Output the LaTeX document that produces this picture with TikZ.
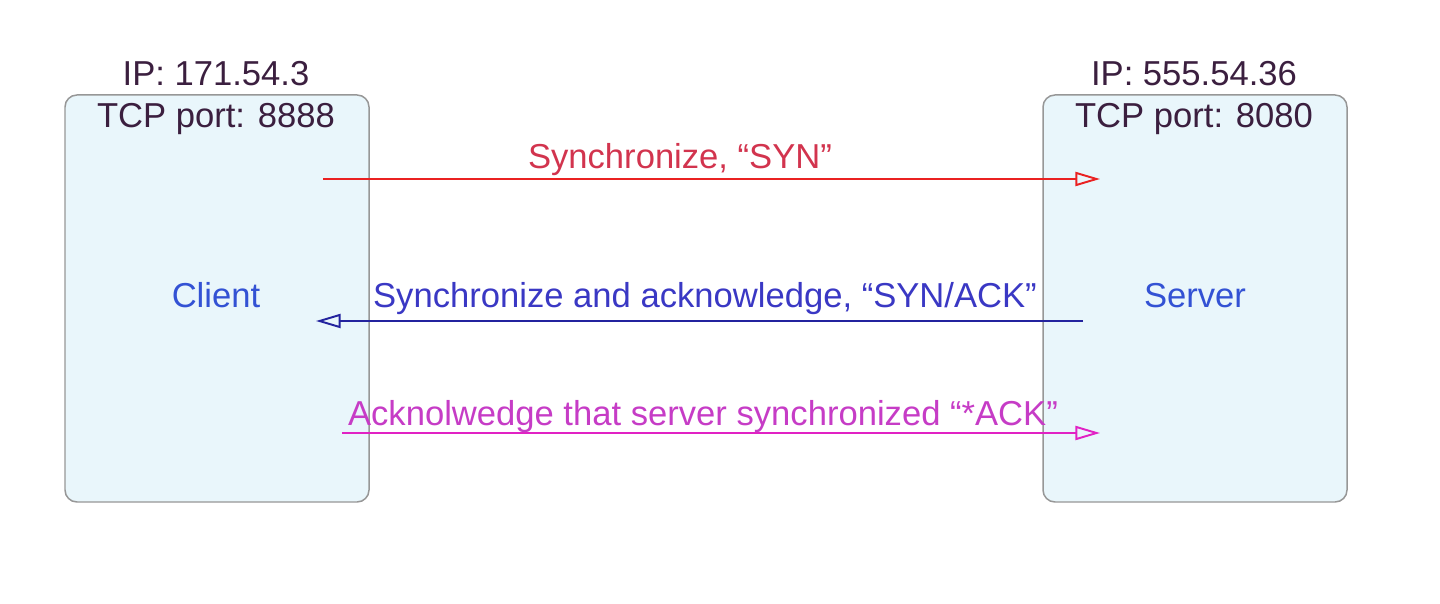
\documentclass[tikz,border=0pt]{standalone}
\usepackage{fontspec}
\setmainfont{Liberation Sans}
\usepackage{xcolor}
\usetikzlibrary{arrows.meta, positioning}

\definecolor{boxfill}{HTML}{E9F6FB}
\definecolor{boxline}{HTML}{979797}
\definecolor{addrtext}{HTML}{3B1F3F}
\definecolor{hosttext}{HTML}{3352D4}
\definecolor{synline}{HTML}{EA2121}
\definecolor{syntext}{HTML}{D2344E}
\definecolor{synackline}{HTML}{23239E}
\definecolor{synacktext}{HTML}{3A38C4}
\definecolor{ackline}{HTML}{E122C4}
\definecolor{acktext}{HTML}{C63CC6}

\tikzset{
  hostbox/.style={draw=boxline, fill=boxfill, line width=0.85pt, rounded corners=6.8pt},
  msg/.style={line width=1.1pt, -{Triangle[open, length=14pt, width=8pt]}},
  lbl/.style={anchor=base, inner sep=0pt, font=\fontsize{19.7}{22}\selectfont}
}

\begin{document}
\begin{tikzpicture}[x=0.02cm, y=-0.02cm]
  \useasboundingbox (0,0) rectangle (1440,604);

  % hosts
  \path[hostbox] (65,95) rectangle (369,502);
  \path[hostbox] (1043,95) rectangle (1347,502);
  \node[lbl, addrtext] (clientip) at (216,86) {IP: 171.54.3};
  \node[lbl, addrtext] (clientport) at (216,128) {TCP port: 8888};
  \node[lbl, hosttext] (client) at (216,308) {Client};
  \node[lbl, addrtext] (serverip) at (1194,86) {IP: 555.54.36};
  \node[lbl, addrtext] (serverport) at (1194,128) {TCP port: 8080};
  \node[lbl, hosttext] (server) at (1195,308) {Server};

  % handshake
  \coordinate (syn-a) at (323,179);
  \coordinate (syn-b) at (1100,179);
  \coordinate (synack-a) at (1083,321);
  \coordinate (synack-b) at (316,321);
  \coordinate (ack-a) at (342,433);
  \coordinate (ack-b) at (1100,433);
  \draw[msg, synline] (syn-a) -- (syn-b);
  \draw[msg, synackline] (synack-a) -- (synack-b);
  \draw[msg, ackline] (ack-a) -- (ack-b);
  \node[lbl, syntext] (synlbl) at (680,169) {Synchronize, “SYN”};
  \node[lbl, synacktext] (synacklbl) at (705,308) {Synchronize and acknowledge, “SYN/ACK”};
  \node[lbl, acktext] (acklbl) at (703,425) {Acknolwedge that server synchronized “*ACK”};
\end{tikzpicture}
\end{document}
